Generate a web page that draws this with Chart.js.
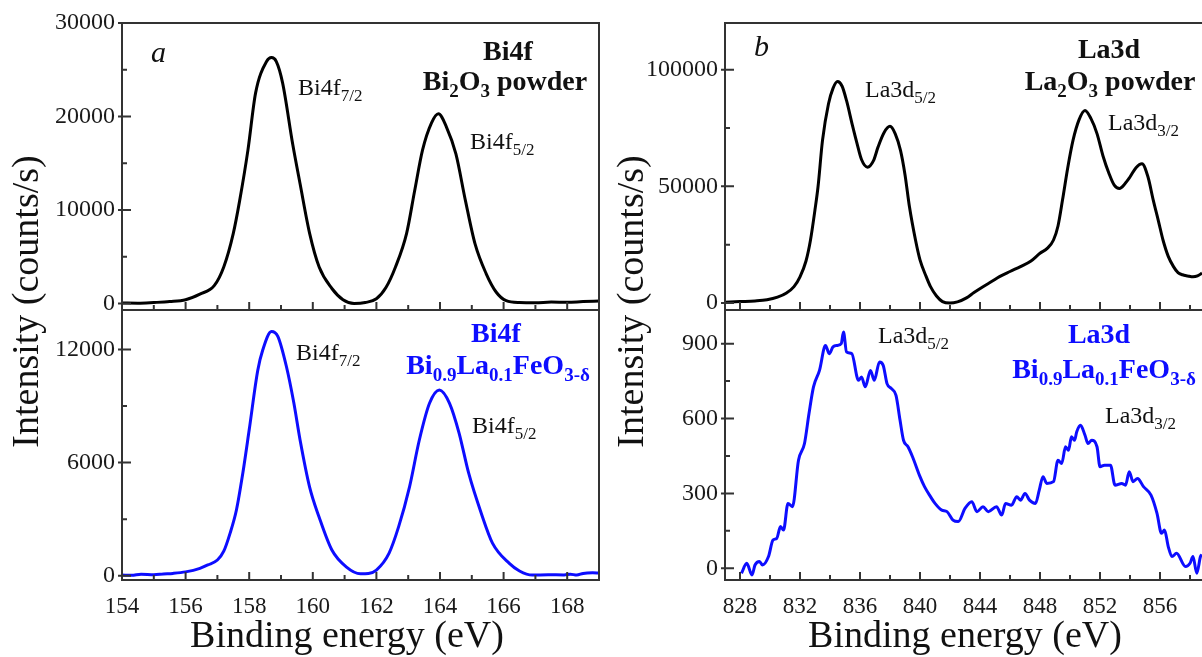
<!DOCTYPE html>
<html>
<head>
<meta charset="utf-8">
<script src="https://cdn.jsdelivr.net/npm/chart.js@4.4.0/dist/chart.umd.min.js"></script>
<style>
  html, body { margin: 0; padding: 0; background: #fff; overflow: hidden; }
  body { width: 1202px; height: 657px; position: relative; }
  canvas { position: absolute; top: 0; }
  #chartA { left: 0; }
  #chartB { left: 602px; }
</style>
</head>
<body>
<canvas id="chartA" width="602" height="657"></canvas>
<canvas id="chartB" width="618" height="657"></canvas>
<script>
// ---- data ----
// (a) Bi4f, Bi2O3 powder
const bi2o3Energy = [154.0, 154.5, 155.0, 155.5, 156.0, 156.45, 156.9, 157.2, 157.5, 157.7, 157.96, 158.2, 158.55, 158.7, 158.85, 159.05, 159.37, 159.6, 159.9, 160.2, 160.6, 160.95, 161.3, 161.65, 162.0, 162.3, 162.6, 162.95, 163.2, 163.45, 163.73, 163.95, 164.2, 164.5, 164.8, 165.1, 165.45, 165.77, 166.08, 166.5, 167.0, 167.5, 168.0, 168.5, 169.0];
const bi2o3Counts = [50, 30, 100, 200, 400, 1000, 1900, 3900, 7500, 11000, 16400, 22500, 25900, 26300, 25900, 23600, 17000, 12800, 7500, 3900, 1600, 400, 0, 100, 500, 1700, 3900, 7500, 12000, 16400, 19300, 20300, 18900, 16000, 11000, 6400, 3200, 1200, 300, 100, 80, 150, 120, 200, 250];

// (a) Bi4f, Bi0.9La0.1FeO3-d
const bfoBiEnergy = [154.0, 154.3, 154.6, 155.0, 155.3, 155.6, 156.0, 156.45, 156.7, 157.0, 157.2, 157.4, 157.6, 157.8, 158.0, 158.27, 158.43, 158.7, 158.9, 159.17, 159.4, 159.6, 159.9, 160.2, 160.6, 161.05, 161.5, 161.75, 162.0, 162.4, 162.7, 163.04, 163.35, 163.67, 163.98, 164.3, 164.6, 164.9, 165.3, 165.65, 166.18, 166.5, 166.9, 167.4, 167.9, 168.1, 168.3, 168.5, 168.8, 169.0];
const bfoBiCounts = [30, 20, 80, 50, 90, 120, 200, 390, 570, 830, 1300, 2260, 3500, 5450, 7740, 10900, 12000, 12960, 12700, 11100, 9200, 7200, 4700, 3100, 1360, 470, 100, 120, 300, 1200, 2600, 4700, 7200, 9150, 9860, 9150, 7570, 5450, 3300, 1730, 650, 250, 30, 50, 40, 80, 30, 120, 150, 140];

// (b) La3d, La2O3 powder
const la2o3Energy = [827.0, 828.0, 829.0, 829.8, 830.5, 831.1, 831.6, 832.0, 832.4, 832.7, 833.0, 833.2, 833.5, 833.9, 834.2, 834.5, 834.8, 835.1, 835.5, 835.8, 836.1, 836.5, 836.9, 837.2, 837.6, 838.0, 838.35, 838.7, 839.0, 839.3, 839.7, 840.0, 840.4, 840.7, 841.1, 841.5, 842.0, 842.5, 843.1, 843.6, 844.2, 844.8, 845.3, 846.0, 846.7, 847.4, 848.0, 848.5, 848.9, 849.2, 849.5, 849.85, 850.2, 850.6, 851.0, 851.4, 851.8, 852.2, 852.6, 852.95, 853.3, 853.65, 854.0, 854.4, 854.8, 855.2, 855.55, 855.9, 856.2, 856.55, 856.9, 857.2, 857.5, 857.85, 858.2, 858.5, 858.8];
const la2o3Counts = [300, 600, 900, 1400, 2500, 4300, 7000, 11200, 18000, 27000, 40000, 49700, 69700, 85400, 92000, 94900, 93000, 86800, 76000, 68400, 61500, 58200, 61000, 66800, 73000, 75700, 72500, 65400, 55000, 41100, 27000, 18500, 11500, 7000, 3000, 600, 0, 500, 2200, 4500, 7000, 9300, 11300, 13500, 15600, 18000, 21300, 23500, 27000, 33000, 44100, 58000, 69700, 78500, 82500, 79000, 72600, 63000, 55500, 50500, 49100, 51000, 54000, 58000, 59700, 54000, 44100, 35000, 27000, 20000, 15600, 13000, 12100, 11600, 11200, 11600, 12800];

// (b) La3d, Bi0.9La0.1FeO3-d
const bfoLaEnergy = [828.1, 828.45, 828.8, 829.0, 829.3, 829.5, 829.9, 830.2, 830.45, 830.7, 830.9, 831.2, 831.5, 831.9, 832.3, 832.6, 832.9, 833.3, 833.7, 833.95, 834.2, 834.5, 834.75, 834.9, 835.1, 835.45, 835.9, 836.1, 836.35, 836.7, 836.95, 837.3, 837.55, 837.8, 838.1, 838.4, 838.67, 838.9, 839.2, 839.5, 840.0, 840.3, 840.7, 841.0, 841.45, 841.8, 842.2, 842.55, 843.0, 843.45, 843.8, 844.2, 844.55, 845.1, 845.45, 845.7, 846.1, 846.45, 846.7, 847.0, 847.3, 847.7, 847.95, 848.2, 848.45, 848.9, 849.2, 849.45, 849.7, 849.9, 850.1, 850.3, 850.45, 850.7, 851.0, 851.2, 851.45, 851.8, 852.0, 852.3, 852.7, 853.0, 853.45, 853.7, 853.95, 854.2, 854.5, 854.9, 855.4, 855.8, 856.1, 856.3, 856.55, 856.8, 857.1, 857.7, 858.0, 858.2, 858.45, 858.7, 858.8];
const bfoLaCounts = [-20, 20, -27, 13, 27, 13, 47, 113, 120, 167, 153, 260, 247, 433, 500, 620, 727, 793, 893, 860, 887, 893, 900, 947, 867, 860, 753, 767, 727, 793, 753, 827, 813, 740, 720, 693, 593, 513, 487, 447, 367, 327, 287, 260, 233, 227, 193, 187, 240, 267, 227, 247, 227, 247, 213, 260, 253, 287, 273, 300, 273, 260, 313, 367, 340, 347, 433, 420, 487, 473, 527, 513, 547, 573, 533, 500, 513, 487, 407, 413, 413, 333, 340, 333, 387, 347, 360, 327, 293, 220, 140, 153, 87, 47, 60, 7, 20, 47, -20, 47, 55];

// tick values
const biTicksX = [154, 156, 158, 160, 162, 164, 166, 168];
const biMinorX = [155, 157, 159, 161, 163, 165, 167];
const biTopTicksY = [0, 10000, 20000, 30000];
const biTopMinorY = [5000, 15000, 25000];
const biBotTicksY = [0, 6000, 12000];
const biBotMinorY = [3000, 9000];

const laTicksX = [828, 832, 836, 840, 844, 848, 852, 856];
const laMinorX = [830, 834, 838, 842, 846, 850, 854, 858];
const laTopTicksY = [0, 50000, 100000];
const laTopMinorY = [25000, 75000];
const laBotTicksY = [0, 300, 600, 900];
const laBotMinorY = [150, 450, 750];

const SERIF = "'Liberation Serif', 'DejaVu Serif', serif";
const BLUE = '#0d0dff';
const INK = '#111';

function toPoints(energy, counts) {
  return energy.map((e, i) => ({ x: e, y: counts[i] }));
}

// text with subscripts: parts = [[text, isSub], ...]
function drawRich(ctx, parts, x, y, o) {
  const main = `${o.style || 'normal'} ${o.weight || 'normal'} ${o.size}px ${SERIF}`;
  const sub = `${o.style || 'normal'} ${o.weight || 'normal'} ${o.subSize || o.size}px ${SERIF}`;
  let w = 0;
  parts.forEach(p => { ctx.font = p[1] ? sub : main; w += ctx.measureText(p[0]).width; });
  let cx = o.align === 'center' ? x - w / 2 : x;
  ctx.fillStyle = o.color || INK;
  ctx.textAlign = 'left';
  ctx.textBaseline = 'alphabetic';
  parts.forEach(p => {
    ctx.font = p[1] ? sub : main;
    ctx.fillText(p[0], cx, y + (p[1] ? o.subShift : 0));
    cx += ctx.measureText(p[0]).width;
  });
}

const peakFont = { size: 24, subSize: 17, subShift: 6 };
const headFont = { size: 28, subSize: 19, subShift: 7, weight: 'bold', align: 'center' };
const bfoName = [['Bi'], ['0.9', 1], ['La'], ['0.1', 1], ['FeO'], ['3-δ', 1]];

// frame, inward ticks, titles and labels
function makeFramePlugin(cfg) {
  return {
    id: 'frame',
    afterDatasetsDraw(chart) {
      const ctx = chart.ctx;
      const x = chart.scales.x;
      ctx.save();
      ctx.strokeStyle = '#333';
      ctx.lineWidth = 2;
      [['yTop', cfg.topMajorY, cfg.topMinorY], ['yBot', cfg.botMajorY, cfg.botMinorY]].forEach(([id, major, minor]) => {
        const y = chart.scales[id];
        ctx.strokeRect(x.left, y.top, x.right - x.left, y.bottom - y.top);
        ctx.beginPath();
        cfg.majorX.forEach(v => { const px = x.getPixelForValue(v); ctx.moveTo(px, y.bottom); ctx.lineTo(px, y.bottom - 8); });
        cfg.minorX.forEach(v => { const px = x.getPixelForValue(v); ctx.moveTo(px, y.bottom); ctx.lineTo(px, y.bottom - 5); });
        major.forEach(v => { const py = y.getPixelForValue(v); ctx.moveTo(x.left - 4, py); ctx.lineTo(x.left + 9, py); });
        minor.forEach(v => { const py = y.getPixelForValue(v); ctx.moveTo(x.left, py); ctx.lineTo(x.left + 5, py); });
        ctx.stroke();
      });

      // axis titles
      ctx.fillStyle = INK;
      ctx.font = `38px ${SERIF}`;
      ctx.textAlign = 'center';
      ctx.textBaseline = 'middle';
      ctx.fillText('Binding energy (eV)', cfg.xTitleX, 637);
      ctx.translate(cfg.yTitleX, (chart.chartArea.top + chart.chartArea.bottom) / 2);
      ctx.rotate(-Math.PI / 2);
      ctx.fillText('Intensity (counts/s)', 0, 0);
      ctx.restore();

      ctx.save();
      cfg.labels.forEach(l => drawRich(ctx, l.parts, l.x, l.y, l.font));
      ctx.restore();
    }
  };
}

function tickOpts(size) {
  return { font: { family: SERIF, size: size }, color: '#1a1a1a', padding: 7, callback: v => String(v) };
}

function makePanel(canvasId, cfg) {
  new Chart(document.getElementById(canvasId), {
    type: 'line',
    data: {
      datasets: [
        { data: cfg.topData, yAxisID: 'yTop', borderColor: '#000', borderWidth: 3, pointRadius: 0,
          cubicInterpolationMode: 'monotone' },
        { data: cfg.botData, yAxisID: 'yBot', borderColor: BLUE, borderWidth: 3, pointRadius: 0,
          cubicInterpolationMode: 'monotone', tension: cfg.botTension }
      ]
    },
    options: {
      responsive: false,
      animation: false,
      layout: { padding: { top: 23, right: cfg.padRight, left: 0, bottom: 0 } },
      plugins: { legend: { display: false }, tooltip: { enabled: false } },
      scales: {
        x: {
          type: 'linear', min: cfg.xMin, max: cfg.xMax,
          grid: { display: false, drawTicks: false }, border: { display: false },
          ticks: { ...tickOpts(23), padding: 13 },
          afterBuildTicks: s => { s.ticks = cfg.majorX.map(v => ({ value: v })); },
          afterFit: s => { s.height = 77; }
        },
        yBot: {
          type: 'linear', position: 'left', stack: 'col', stackWeight: 270,
          min: cfg.botMin, max: cfg.botMax,
          grid: { display: false, drawTicks: false }, border: { display: false },
          ticks: tickOpts(24),
          afterBuildTicks: s => { s.ticks = cfg.botMajorY.map(v => ({ value: v })); },
          afterFit: s => { s.width = cfg.yWidth; }
        },
        yTop: {
          type: 'linear', position: 'left', stack: 'col', stackWeight: 287,
          min: cfg.topMin, max: cfg.topMax,
          grid: { display: false, drawTicks: false }, border: { display: false },
          ticks: tickOpts(24),
          afterBuildTicks: s => { s.ticks = cfg.topMajorY.map(v => ({ value: v })); },
          afterFit: s => { s.width = cfg.yWidth; }
        }
      }
    },
    plugins: [makeFramePlugin(cfg)]
  });
}

makePanel('chartA', {
  topData: toPoints(bi2o3Energy, bi2o3Counts),
  botData: toPoints(bfoBiEnergy, bfoBiCounts),
  botTension: 0.4,
  xMin: 154, xMax: 169, topMin: -700, topMax: 30000, botMin: -230, botMax: 14100,
  majorX: biTicksX, minorX: biMinorX,
  topMajorY: biTopTicksY, topMinorY: biTopMinorY,
  botMajorY: biBotTicksY, botMinorY: biBotMinorY,
  yWidth: 122, padRight: 3, xTitleX: 347, yTitleX: 28,
  labels: [
    { parts: [['a']], x: 151, y: 62, font: { size: 30, style: 'italic' } },
    { parts: [['Bi4f']], x: 508, y: 60, font: headFont },
    { parts: [['Bi'], ['2', 1], ['O'], ['3', 1], [' powder']], x: 505, y: 90, font: headFont },
    { parts: [['Bi4f'], ['7/2', 1]], x: 298, y: 95, font: peakFont },
    { parts: [['Bi4f'], ['5/2', 1]], x: 470, y: 149, font: peakFont },
    { parts: [['Bi4f'], ['7/2', 1]], x: 296, y: 360, font: peakFont },
    { parts: [['Bi4f']], x: 496, y: 342, font: { ...headFont, color: BLUE } },
    { parts: bfoName, x: 498, y: 374, font: { ...headFont, color: BLUE } },
    { parts: [['Bi4f'], ['5/2', 1]], x: 472, y: 433, font: peakFont }
  ]
});

makePanel('chartB', {
  topData: toPoints(la2o3Energy, la2o3Counts),
  botData: toPoints(bfoLaEnergy, bfoLaCounts),
  botTension: 0,
  xMin: 827, xMax: 860, topMin: -3000, topMax: 120000, botMin: -47, botMax: 1035,
  majorX: laTicksX, minorX: laMinorX,
  topMajorY: laTopTicksY, topMinorY: laTopMinorY,
  botMajorY: laBotTicksY, botMinorY: laBotMinorY,
  yWidth: 123, padRight: 0, xTitleX: 363, yTitleX: 31,
  labels: [
    { parts: [['b']], x: 152, y: 56, font: { size: 30, style: 'italic' } },
    { parts: [['La3d'], ['5/2', 1]], x: 263, y: 97, font: peakFont },
    { parts: [['La3d']], x: 507, y: 58, font: headFont },
    { parts: [['La'], ['2', 1], ['O'], ['3', 1], [' powder']], x: 508, y: 90, font: headFont },
    { parts: [['La3d'], ['3/2', 1]], x: 506, y: 130, font: peakFont },
    { parts: [['La3d'], ['5/2', 1]], x: 276, y: 343, font: peakFont },
    { parts: [['La3d']], x: 497, y: 343, font: { ...headFont, color: BLUE } },
    { parts: bfoName, x: 502, y: 378, font: { ...headFont, color: BLUE } },
    { parts: [['La3d'], ['3/2', 1]], x: 503, y: 423, font: peakFont }
  ]
});
</script>
</body>
</html>
